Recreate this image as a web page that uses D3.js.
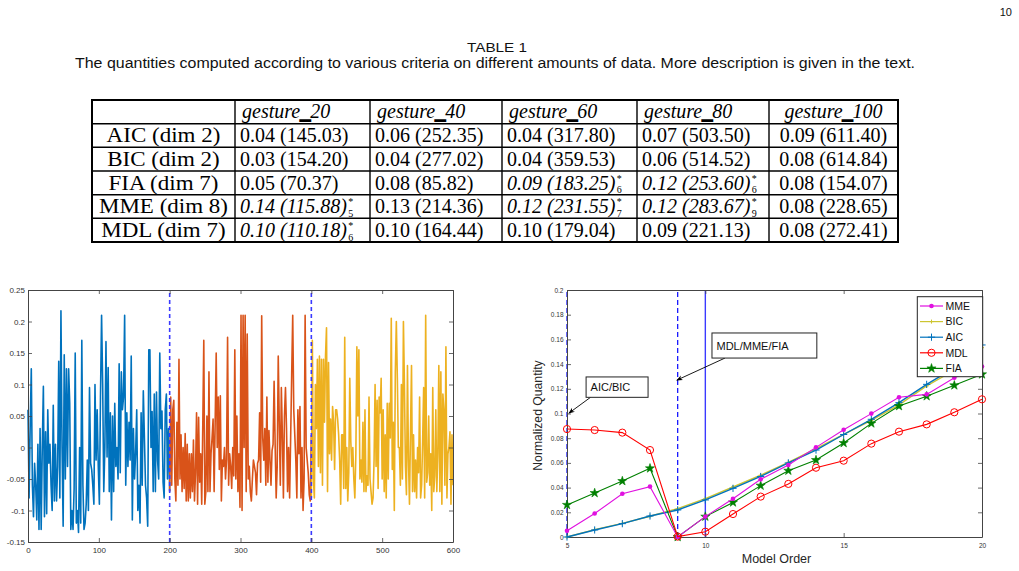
<!DOCTYPE html>
<html><head><meta charset="utf-8">
<script src="https://cdn.jsdelivr.net/npm/d3@7"></script>
<style>body{margin:0;background:#fff}svg{display:block}</style>
</head><body>
<svg id="c" width="1019" height="571"></svg>
<script>
// ---------------- DATA ----------------
const pageNumber = "10";
const tableTitle = "TABLE 1";
const tableCaption = "The quantities computed according to various criteria on different amounts of data. More description is given in the text.";
const tableColumns = ["20", "40", "60", "80", "100"];
const tableRowLabels = ["AIC (dim 2)", "BIC (dim 2)", "FIA (dim 7)", "MME (dim 8)", "MDL (dim 7)"];
const tableScores = [
  [0.04, 0.06, 0.04, 0.07, 0.09],
  [0.03, 0.04, 0.04, 0.06, 0.08],
  [0.05, 0.08, 0.09, 0.12, 0.08],
  [0.14, 0.13, 0.12, 0.12, 0.08],
  [0.10, 0.10, 0.10, 0.09, 0.08]
];
const tableCounts = [
  [145.03, 252.35, 317.80, 503.50, 611.40],
  [154.20, 277.02, 359.53, 514.52, 614.84],
  [70.37, 85.82, 183.25, 253.60, 154.07],
  [115.88, 214.36, 231.55, 283.67, 228.65],
  [110.18, 164.44, 179.04, 221.13, 272.41]
];
const tableBestOrder = [
  [null, null, null, null, null],
  [null, null, null, null, null],
  [null, null, 6, 6, null],
  [5, null, 7, 9, null],
  [6, null, null, null, null]
];

const signalBlue = [0.06,-0.08,0.035,0.125,-0.06,-0.11,-0.025,-0.06,-0.115,0.005,
-0.13,0.03,-0.13,0.0,0.097,-0.11,0.025,-0.105,0.06,-0.025,
0.005,-0.06,-0.1,0.067,-0.085,0.005,-0.085,-0.03,0.137,-0.08,
0.217,0.0,-0.125,0.147,-0.05,0.125,-0.03,0.125,0.07,-0.13,
-0.1,-0.13,-0.065,0.15,-0.12,-0.1,-0.135,0.0,-0.12,0.17,
-0.06,-0.13,-0.12,-0.09,-0.02,-0.1,0.095,-0.025,-0.035,-0.06,
-0.09,0.1,-0.02,0.06,-0.03,-0.09,0.08,0.21,0.1,-0.07,
0.0,0.168,-0.015,0.127,-0.07,0.055,-0.115,0.05,-0.07,0.07,
-0.03,0.0,-0.05,0.133,-0.04,0.12,0.06,0.08,0.21,-0.06,
0.055,-0.03,0.04,-0.02,0.145,-0.115,0.03,-0.05,-0.01,0.06,
-0.1,-0.06,-0.12,0.055,-0.06,0.09,0.015,-0.06,-0.08,-0.125,
0.155,0.155,0.0,0.057,-0.07,0.085,-0.07,0.088,-0.02,-0.05,
0.15,0.03,0.058,-0.055,-0.08,0.06,0.085,-0.05,0.03,-0.07];

const signalOrange = [-0.07,0.08,-0.06,0.06,0.075,-0.05,-0.085,0.04,-0.06,0.14,
-0.05,0.02,-0.07,0.0,-0.065,0.022,-0.085,0.005,-0.085,-0.01,
-0.08,-0.01,-0.07,0.012,-0.085,-0.04,0.055,-0.09,0.048,-0.055,
-0.01,-0.09,0.033,0.17,-0.09,-0.07,0.05,-0.07,0.12,-0.07,
-0.01,0.015,0.045,-0.07,0.04,0.15,0.0,0.08,-0.035,0.082,
-0.085,-0.02,-0.03,0.0,-0.05,-0.02,0.175,-0.06,-0.01,-0.03,
-0.065,0.0,-0.045,0.155,-0.05,0.05,-0.07,-0.01,-0.095,
0.21,-0.1,0.21,0.0,0.21,-0.07,0.18,-0.05,-0.03,-0.07,
-0.085,-0.05,-0.02,-0.03,-0.04,-0.075,-0.025,-0.02,0.055,-0.055,
0.209,0.015,-0.02,0.03,-0.06,0.08,-0.055,0.027,-0.02,-0.06,
-0.005,0.005,0.105,0.005,-0.08,-0.03,0.145,0.04,-0.06,0.095,
0.02,-0.08,0.05,0.095,0.03,-0.07,0.0,-0.08,0.015,0.115,
0.21,0.06,0.02,-0.02,-0.08,0.06,-0.01,0.065,-0.08,0.0,
-0.1,-0.05,0.21,0.0,-0.02,-0.04,-0.075,-0.085,0.02];

const signalYellow = [-0.08,0.17,-0.05,-0.08,0.1,0.03,0.14,-0.03,0.145,-0.04,
0.14,-0.06,0.14,0.04,0.145,0.19,-0.07,0.135,-0.01,0.045,
-0.02,0.065,0.04,-0.035,0.06,0.06,0.045,0.02,-0.02,-0.09,
0.02,0.02,-0.065,0.175,-0.065,0.0,-0.085,-0.04,0.11,0.01,
-0.03,0.0,-0.05,-0.08,-0.01,0.16,0.05,0.155,-0.05,-0.02,
-0.055,0.04,-0.07,0.06,-0.07,-0.045,-0.06,0.08,-0.05,-0.07,
-0.09,-0.08,-0.02,0.1,-0.03,0.075,-0.065,0.08,0.055,0.11,
-0.05,0.06,-0.07,0.02,-0.08,0.07,-0.05,0.07,0.015,0.205,
-0.035,0.04,-0.1,0.12,0.2,0.11,0.0,0.0,-0.06,0.1,
-0.05,0.2,0.1,-0.03,-0.075,0.13,-0.02,-0.09,0.025,0.13,
-0.07,0.02,-0.07,-0.02,-0.08,0.0,-0.04,0.08,-0.08,-0.06,
0.01,0.095,-0.08,0.21,-0.055,-0.04,0.05,-0.06,-0.01,-0.1,
0.095,-0.07,-0.045,0.06,-0.07,-0.01,0.13,-0.07,0.12,-0.09,
0.085,0.06,-0.06,0.16,-0.08,-0.01,0.0,0.025,-0.09,0.02,
-0.06];

const signalSegmentEdges = [0, 200, 400, 600];
const signalXTicks = [0, 100, 200, 300, 400, 500, 600];
const signalYTicks = [-0.15, -0.1, -0.05, 0, 0.05, 0.1, 0.15, 0.2, 0.25];

const modelOrders = [5,6,7,8,9,10,11,12,13,14,15,16,17,18,19,20];
const seriesMME = [0.005,0.019,0.035,0.0408,0,0.0165,0.031,0.0467,0.0583,0.0726,0.0869,0.0999,0.1131,0.1155,0.129,0.138];
const seriesBIC = [0,0.006,0.011,0.0168,0.023,0.031,0.0405,0.05,0.0605,0.0715,0.083,0.0945,0.107,0.1223,0.135,0.1533];
const seriesAIC = [0,0.0057,0.0108,0.017,0.0219,0.030,0.0394,0.049,0.060,0.0704,0.083,0.0953,0.1088,0.1236,0.137,0.1555];
const seriesMDL = [0.0874,0.0866,0.0845,0.0704,0.0003,0.0043,0.0186,0.0327,0.043,0.0561,0.0618,0.0756,0.0853,0.0912,0.101,0.1115];
const seriesFIA = [0.026,0.0356,0.0453,0.0556,0,0.0165,0.028,0.0416,0.0537,0.0623,0.0761,0.092,0.106,0.114,0.1228,0.1317];
const seriesNames = ["MME", "BIC", "AIC", "MDL", "FIA"];
const orderXTicks = [5, 10, 15, 20];
const orderYTicks = [0,0.02,0.04,0.06,0.08,0.1,0.12,0.14,0.16,0.18,0.2];
const dashedOrders = [5, 9];
const solidOrders = [10];

// ---------------- DRAWING ----------------
const svg = d3.select("#c");
svg.append("rect").attr("width", 1019).attr("height", 571).attr("fill", "#fff");
const SANS = "'Liberation Sans', Arial, Helvetica, sans-serif";
const SERIF = "'Liberation Serif', 'Times New Roman', serif";

svg.append("text").attr("x", 1012).attr("y", 16).attr("text-anchor", "end")
  .attr("font-family", SANS).attr("font-size", 11).attr("fill", "#111").text(pageNumber);
svg.append("text").attr("x", 497).attr("y", 51.5).attr("text-anchor", "middle")
  .attr("font-family", SANS).attr("font-size", 13.5).attr("fill", "#111")
  .attr("textLength", 60).attr("lengthAdjust", "spacingAndGlyphs").text(tableTitle);
svg.append("text").attr("x", 75).attr("y", 67.5).attr("font-family", SANS)
  .attr("font-size", 14).attr("fill", "#111")
  .attr("textLength", 840).attr("lengthAdjust", "spacingAndGlyphs").text(tableCaption);

// ---- table ----
const colEdges = [92, 235, 370, 502, 637, 769, 898];
const rowEdges = [100, 123.7, 147.3, 171, 194.7, 218.3, 242];
const T = svg.append("g");
colEdges.slice(1, -1).forEach(x => T.append("line").attr("x1", x).attr("x2", x)
  .attr("y1", rowEdges[0]).attr("y2", rowEdges[6]).attr("stroke", "#000").attr("stroke-width", 1.4));
rowEdges.slice(1, -1).forEach(y => T.append("line").attr("y1", y).attr("y2", y)
  .attr("x1", colEdges[0]).attr("x2", colEdges[6]).attr("stroke", "#000").attr("stroke-width", 1.4));
T.append("rect").attr("x", colEdges[0]).attr("y", rowEdges[0])
  .attr("width", colEdges[6] - colEdges[0]).attr("height", rowEdges[6] - rowEdges[0])
  .attr("fill", "none").attr("stroke", "#000").attr("stroke-width", 2);

const FS = 20;
tableColumns.forEach((c, j) => {
  const last = j === tableColumns.length - 1;
  const x = last ? (colEdges[j + 1] + colEdges[j + 2]) / 2 : colEdges[j + 1] + 7;
  const t = T.append("text").attr("x", x).attr("y", rowEdges[1] - 6)
    .attr("font-family", SERIF).attr("font-size", FS).attr("font-style", "italic")
    .attr("text-anchor", last ? "middle" : "start").attr("fill", "#000");
  t.append("tspan").text("gesture");
  t.append("tspan").attr("stroke", "#000").attr("stroke-width", 1.6).text("_");
  t.append("tspan").text(c);
});
tableRowLabels.forEach((lab, i) => {
  const yb = rowEdges[i + 2] - 5;
  const rl = T.append("text").attr("x", (colEdges[0] + colEdges[1]) / 2).attr("y", yb)
    .attr("text-anchor", "middle").attr("font-family", SERIF).attr("font-size", FS)
    .attr("fill", "#000").text(lab);
  rl.attr("textLength", rl.node().getComputedTextLength() * 1.15).attr("lengthAdjust", "spacingAndGlyphs");
  tableScores[i].forEach((s, j) => {
    const last = j === tableColumns.length - 1;
    const mark = tableBestOrder[i][j];
    const x = last ? (colEdges[j + 1] + colEdges[j + 2]) / 2 : colEdges[j + 1] + 5;
    const str = s.toFixed(2) + " (" + tableCounts[i][j].toFixed(2) + ")";
    const t = T.append("text").attr("x", x).attr("y", yb)
      .attr("text-anchor", last ? "middle" : "start").attr("font-family", SERIF)
      .attr("font-size", FS).attr("fill", "#000")
      .attr("font-style", mark != null ? "italic" : "normal").text(str);
    if (mark != null) {
      const w = t.node().getComputedTextLength();
      T.append("text").attr("x", x + w + 1.5).attr("y", yb - 8).attr("font-family", SERIF)
        .attr("font-size", 10).text("*");
      T.append("text").attr("x", x + w + 1.5).attr("y", yb + 3.5).attr("font-family", SERIF)
        .attr("font-size", 10).text(mark);
    }
  });
});

// ---- axes helper ----
function frame(g, x, y, xt, yt, fs, padX, padY) {
  const [x0, x1] = x.range(), [y0, y1] = y.range();
  const style = s => {
    s.selectAll(".domain").attr("stroke", "#444").attr("stroke-width", 1);
    s.selectAll(".tick line").attr("stroke", "#444").attr("stroke-width", 0.8);
    s.selectAll("text").attr("fill", "#333").attr("font-family", SANS).attr("font-size", fs);
    s.attr("font-family", SANS).attr("font-size", fs);
  };
  g.append("g").attr("transform", `translate(0,${y0})`)
    .call(d3.axisBottom(x).tickValues(xt).tickSize(-4).tickSizeOuter(0).tickPadding(padX).tickFormat(d => String(d))).call(style);
  g.append("g").attr("transform", `translate(0,${y1})`)
    .call(d3.axisTop(x).tickValues(xt).tickSize(-4).tickSizeOuter(0).tickFormat("")).call(style);
  g.append("g").attr("transform", `translate(${x0},0)`)
    .call(d3.axisLeft(y).tickValues(yt).tickSize(-4).tickSizeOuter(0).tickPadding(padY).tickFormat(d => String(d))).call(style);
  g.append("g").attr("transform", `translate(${x1},0)`)
    .call(d3.axisRight(y).tickValues(yt).tickSize(-4).tickSizeOuter(0).tickFormat("")).call(style);
}

// ---- left chart: signal ----
const L = svg.append("g");
const xs = d3.scaleLinear().domain([0, 600]).range([28, 453]);
const ys = d3.scaleLinear().domain([-0.15, 0.25]).range([542, 290]);
const segColors = ["#0072BD", "#D95319", "#EDB120"];
[signalBlue, signalOrange, signalYellow].forEach((vals, k) => {
  const a = signalSegmentEdges[k], b = signalSegmentEdges[k + 1];
  const pts = vals.map((v, i) => [a + (b - a) * i / (vals.length - 1), v]);
  L.append("path").datum(pts)
    .attr("d", d3.line().x(d => xs(d[0])).y(d => ys(d[1])))
    .attr("fill", "none").attr("stroke", segColors[k]).attr("stroke-width", 1.6)
    .attr("stroke-linejoin", "round");
});
signalSegmentEdges.slice(1, -1).forEach(v => L.append("line")
  .attr("x1", xs(v)).attr("x2", xs(v)).attr("y1", ys.range()[0]).attr("y2", ys.range()[1])
  .attr("stroke", "#3a3aff").attr("stroke-width", 1.6).attr("stroke-dasharray", "4,3"));
frame(L, xs, ys, signalXTicks, signalYTicks, 8, 5, 3);

// ---- right chart: criteria ----
const R = svg.append("g");
const xo = d3.scaleLinear().domain([5, 20]).range([567, 982]);
const yo = d3.scaleLinear().domain([0, 0.2]).range([537, 290]);
dashedOrders.forEach(v => R.append("line").attr("x1", xo(v)).attr("x2", xo(v))
  .attr("y1", yo(0)).attr("y2", yo(0.2)).attr("stroke", "#1a1aff").attr("stroke-width", 1.3)
  .attr("stroke-dasharray", "5,3"));
solidOrders.forEach(v => R.append("line").attr("x1", xo(v)).attr("x2", xo(v))
  .attr("y1", yo(0)).attr("y2", yo(0.2)).attr("stroke", "#3a3aff").attr("stroke-width", 1.4));
frame(R, xo, yo, orderXTicks, orderYTicks, 6.5, 6, 3.5);

const seriesStyle = {
  MME: { color: "#e010e0", data: seriesMME, marker: "dot" },
  BIC: { color: "#cdc531", data: seriesBIC, marker: "smallplus" },
  AIC: { color: "#0072BD", data: seriesAIC, marker: "plus" },
  MDL: { color: "#ff0000", data: seriesMDL, marker: "circle" },
  FIA: { color: "#008000", data: seriesFIA, marker: "star" }
};
function drawMarker(g, type, color, x, y) {
  if (type === "dot") g.append("circle").attr("cx", x).attr("cy", y).attr("r", 2.3).attr("fill", color);
  else if (type === "circle") g.append("circle").attr("cx", x).attr("cy", y).attr("r", 3.6)
    .attr("fill", "none").attr("stroke", color).attr("stroke-width", 1);
  else if (type === "plus" || type === "smallplus") {
    const s = type === "plus" ? 3.6 : 2;
    g.append("path").attr("d", `M${x - s},${y}H${x + s}M${x},${y - s}V${y + s}`)
      .attr("stroke", color).attr("stroke-width", 1);
  } else if (type === "star") g.append("path").attr("transform", `translate(${x},${y})`)
    .attr("d", d3.symbol(d3.symbolStar, 26)()).attr("fill", color).attr("stroke", color).attr("stroke-width", 0.6);
}
["BIC", "AIC", "FIA", "MME", "MDL"].forEach(name => {
  const st = seriesStyle[name];
  const pts = modelOrders.map((o, i) => [o, st.data[i]]);
  R.append("path").datum(pts).attr("d", d3.line().x(d => xo(d[0])).y(d => yo(d[1])))
    .attr("fill", "none").attr("stroke", st.color).attr("stroke-width", name === "BIC" || name === "AIC" ? 1.4 : 1.1);
  pts.forEach(p => drawMarker(R, st.marker, st.color, xo(p[0]), yo(p[1])));
});

// axis titles
R.append("text").attr("transform", `translate(541.5,${(yo(0) + yo(0.2)) / 2 + 2}) rotate(-90)`)
  .attr("text-anchor", "middle").attr("font-family", SANS).attr("font-size", 12.2)
  .attr("fill", "#262626").text("Normalized Quantity");
R.append("text").attr("x", (xo(5) + xo(20)) / 2 + 2).attr("y", 563).attr("text-anchor", "middle")
  .attr("font-family", SANS).attr("font-size", 12.5).attr("fill", "#262626").text("Model Order");

// annotations
const defs = svg.append("defs");
defs.append("marker").attr("id", "ah").attr("viewBox", "0 0 10 10").attr("refX", 9).attr("refY", 5)
  .attr("markerWidth", 7).attr("markerHeight", 7).attr("orient", "auto-start-reverse")
  .append("path").attr("d", "M0,1 L10,5 L0,9 L3,5 Z").attr("fill", "#000");
function annotate(label, box, tail, head) {
  R.append("line").attr("x1", xo(tail[0])).attr("y1", yo(tail[1]))
    .attr("x2", xo(head[0])).attr("y2", yo(head[1])).attr("stroke", "#000").attr("stroke-width", 0.9)
    .attr("marker-end", "url(#ah)");
  const bx = xo(box[0]), by = yo(box[1]), bw = xo(box[2]) - bx, bh = yo(box[3]) - by;
  R.append("rect").attr("x", bx).attr("y", by).attr("width", bw).attr("height", bh)
    .attr("fill", "#fff").attr("stroke", "#222").attr("stroke-width", 1);
  R.append("text").attr("x", bx + 4.5).attr("y", by + bh / 2 + 4).attr("font-family", SANS)
    .attr("font-size", 11).attr("fill", "#111").text(label);
}
annotate("AIC/BIC", [5.69, 0.1296, 7.93, 0.1131], [5.85, 0.1131], [5.07, 0.1003]);
annotate("MDL/MME/FIA", [10.24, 0.1652, 14.03, 0.1449], [10.71, 0.1449], [8.97, 0.127]);

// legend
const lg = R.append("g");
lg.append("rect").attr("x", 917.3).attr("y", 296.7).attr("width", 65.4).attr("height", 80)
  .attr("fill", "#fff").attr("stroke", "#222").attr("stroke-width", 1);
seriesNames.forEach((n, i) => {
  const st = seriesStyle[n];
  const y = 306 + i * 15.6;
  lg.append("line").attr("x1", 920).attr("x2", 943).attr("y1", y).attr("y2", y)
    .attr("stroke", st.color).attr("stroke-width", 1.2);
  drawMarker(lg, st.marker, st.color, 931.5, y);
  lg.append("text").attr("x", 945.5).attr("y", y + 3.8).attr("font-family", SANS)
    .attr("font-size", 10.5).attr("fill", "#111").text(n);
});
</script>
</body></html>
